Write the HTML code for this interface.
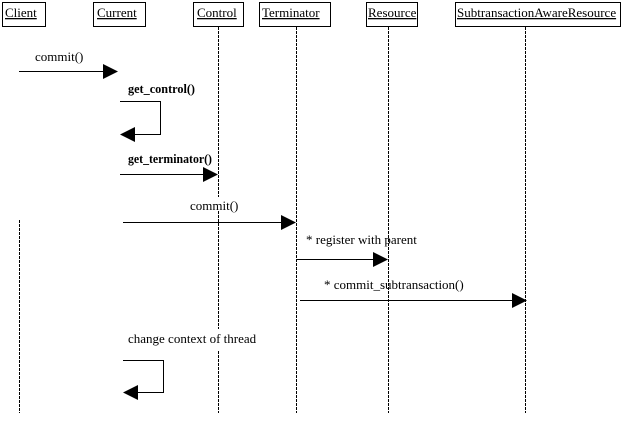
<!DOCTYPE html>
<html><head><style>
html,body{margin:0;padding:0;background:#fff;}
svg text{font-family:"Liberation Serif",serif;font-size:13px;fill:#000;}
</style></head><body>
<svg width="624" height="418" viewBox="0 0 624 418" xmlns="http://www.w3.org/2000/svg">
<g fill="#fff" stroke="#000" stroke-width="1">
<rect x="2.5" y="2.5" width="43" height="24"/>
<rect x="93.5" y="2.5" width="52" height="24"/>
<rect x="193.5" y="2.5" width="50" height="24"/>
<rect x="259.5" y="2.5" width="71" height="24"/>
<rect x="366.5" y="2.5" width="51" height="24"/>
<rect x="455.5" y="2.5" width="165" height="24"/>
</g>
<g>
<text x="5" y="17" text-decoration="underline">Client</text>
<text x="97" y="17" text-decoration="underline">Current</text>
<text x="197" y="17" text-decoration="underline">Control</text>
<text x="262" y="17" text-decoration="underline">Terminator</text>
<text x="368" y="17" text-decoration="underline">Resource</text>
<text x="457" y="17" text-decoration="underline">SubtransactionAwareResource</text>
</g>
<g stroke="#000" stroke-width="1" stroke-dasharray="3,1">
<line x1="218.5" y1="27" x2="218.5" y2="413"/>
<line x1="296.5" y1="27" x2="296.5" y2="413"/>
<line x1="388.5" y1="27" x2="388.5" y2="413"/>
<line x1="525.5" y1="27" x2="525.5" y2="413"/>
<line x1="19.5" y1="220" x2="19.5" y2="413"/>
</g>
<g stroke="#000" stroke-width="1" fill="none">
<line x1="19" y1="71.5" x2="106" y2="71.5"/>
<polyline points="120,101.5 160.5,101.5 160.5,134.5 132,134.5"/>
<line x1="120" y1="174.5" x2="206" y2="174.5"/>
<line x1="123" y1="222.5" x2="283" y2="222.5"/>
<line x1="296" y1="259.5" x2="376" y2="259.5"/>
<line x1="300" y1="300.5" x2="514" y2="300.5"/>
<polyline points="123,360.5 163.5,360.5 163.5,392.5 135,392.5"/>
</g>
<g fill="#000">
<polygon points="103,64 118,71.5 103,79"/>
<polygon points="120,134.5 135,127 135,142"/>
<polygon points="203,167 218,174.5 203,182"/>
<polygon points="281,215 296,222.5 281,230"/>
<polygon points="373,252 388,259.5 373,267"/>
<polygon points="512,293 527,300.5 512,308"/>
<polygon points="123,392.5 138,385 138,400"/>
</g>
<g>
<rect x="186" y="197" width="56" height="14" fill="#fff"/>
<rect x="126" y="329" width="132" height="22" fill="#fff"/>
<text x="35" y="61">commit()</text>
<text x="128" y="93" font-weight="bold" textLength="67" lengthAdjust="spacingAndGlyphs">get_control()</text>
<text x="128" y="163" font-weight="bold" textLength="84" lengthAdjust="spacingAndGlyphs">get_terminator()</text>
<text x="190" y="210">commit()</text>
<text x="306" y="244">* register with parent</text>
<text x="324" y="289">* commit_subtransaction()</text>
<text x="128" y="343">change context of thread</text>
</g>
</svg>
</body></html>
